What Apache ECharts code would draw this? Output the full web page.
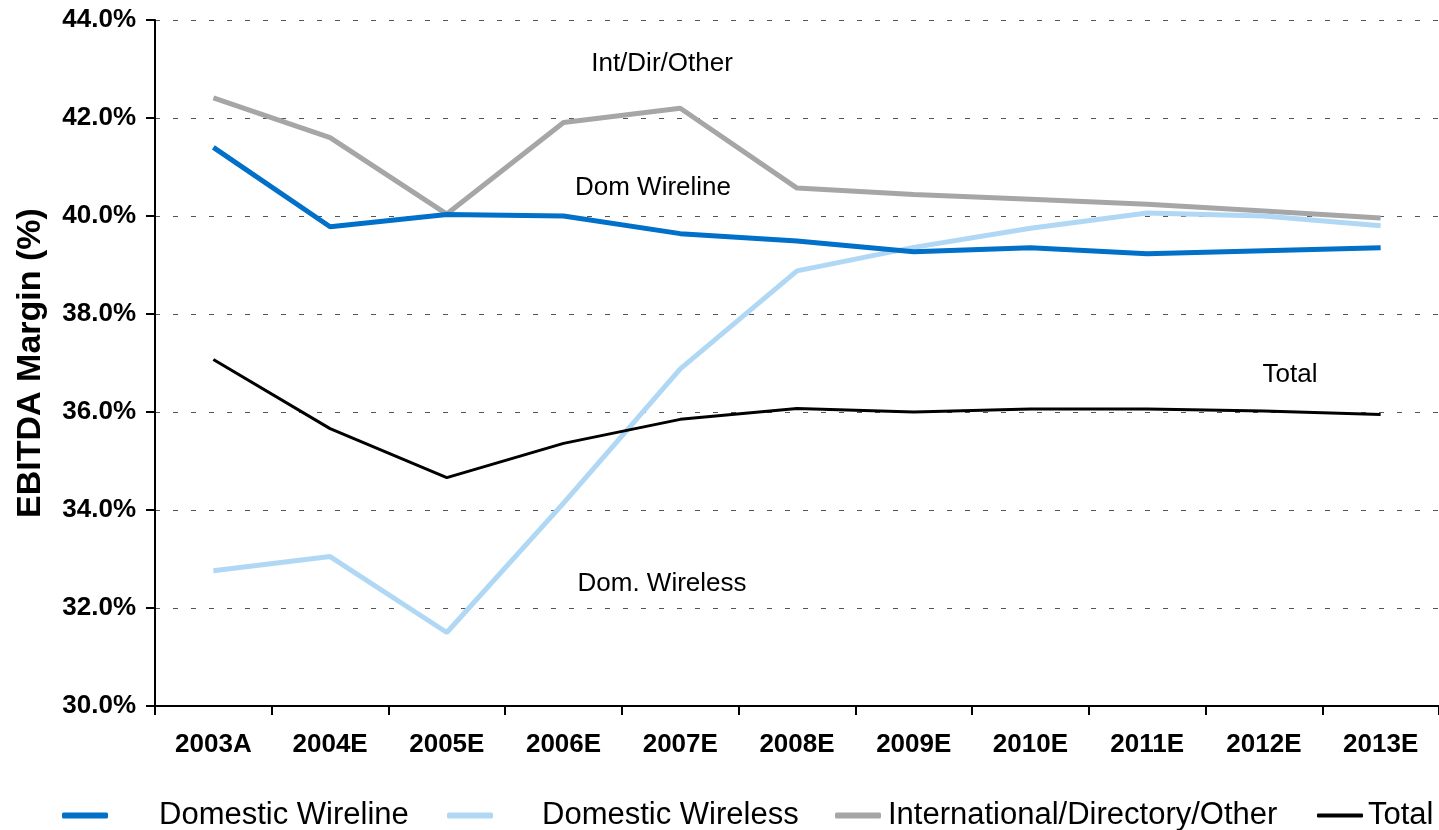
<!DOCTYPE html>
<html>
<head>
<meta charset="utf-8">
<script src="https://cdn.jsdelivr.net/npm/echarts@6/dist/echarts.min.js"></script>
<style>
  html, body { margin: 0; padding: 0; background: #fff; }
  #chart { width: 1439px; height: 830px; }
</style>
</head>
<body>
<div id="chart"></div>
<script>
// categories and series values (EBITDA margin, %)
const years = ['2003A', '2004E', '2005E', '2006E', '2007E', '2008E', '2009E', '2010E', '2011E', '2012E', '2013E']
const domWireline = [41.4, 39.78, 40.03, 40.0, 39.64, 39.49, 39.27, 39.35, 39.23, 39.29, 39.35]
const domWireless = [32.76, 33.05, 31.5, 34.14, 36.88, 38.88, 39.36, 39.75, 40.06, 40.0, 39.8]
const intDirOther = [42.41, 41.6, 40.04, 41.91, 42.2, 40.57, 40.44, 40.34, 40.24, 40.1, 39.96]
const total = [37.07, 35.66, 34.66, 35.36, 35.85, 36.07, 36.0, 36.06, 36.06, 36.02, 35.95]
const yTicks = [30, 32, 34, 36, 38, 40, 42, 44]

const font = '"Liberation Sans", Arial, sans-serif'
const chart = echarts.init(document.getElementById('chart'))

function legendFor (name, left, gap, height) {
  return {
    data: [name],
    left: left,
    top: 800,
    padding: 0,
    icon: 'roundRect',
    itemWidth: 46,
    itemHeight: height,
    textStyle: { fontFamily: font, fontSize: 31, color: '#000', padding: [0, 0, 0, gap] },
    selectedMode: false
  }
}

// free-floating series labels
function note (text, x, y) {
  return {
    type: 'text', x: x, y: y,
    style: { text: text, font: '26px ' + font, fill: '#000', align: 'center', verticalAlign: 'middle' }
  }
}

const option = {
  animation: false,
  backgroundColor: '#fff',
  grid: { left: 155, right: 0, top: 20, bottom: 124 },
  xAxis: {
    type: 'category',
    data: years,
    boundaryGap: true,
    axisLine: { lineStyle: { color: '#000', width: 2 } },
    axisTick: { show: true, length: 9, lineStyle: { color: '#000', width: 2 } },
    axisLabel: { fontFamily: font, fontSize: 26, fontWeight: 'bold', color: '#000', margin: 26 }
  },
  yAxis: {
    type: 'value',
    min: yTicks[0],
    max: yTicks[yTicks.length - 1],
    interval: 2,
    name: 'EBITDA Margin (%)',
    nameLocation: 'middle',
    nameGap: 107,
    nameTextStyle: { fontFamily: font, fontSize: 34, fontWeight: 'bold', color: '#000' },
    axisLine: { show: true, lineStyle: { color: '#000', width: 2 } },
    axisTick: { show: true, length: 9, lineStyle: { color: '#000', width: 2 } },
    axisLabel: {
      fontFamily: font, fontSize: 26, fontWeight: 'bold', color: '#000', margin: 19,
      formatter: v => v.toFixed(1) + '%'
    },
    splitLine: { show: true, lineStyle: { color: '#555', type: [5, 13], width: 1 } }
  },
  legend: [
    legendFor('Domestic Wireline', 62, 46, 6),
    legendFor('Domestic Wireless', 447, 44, 6),
    legendFor('International/Directory/Other', 835, 2, 6),
    legendFor('Total', 1317, 0, 4)
  ],
  graphic: [
    note('Int/Dir/Other', 662, 64),
    note('Dom Wireline', 653, 188),
    note('Total', 1290, 375),
    note('Dom. Wireless', 662, 584)
  ],
  series: [
    {
      name: 'International/Directory/Other', type: 'line', data: intDirOther,
      symbol: 'none', color: '#a6a6a6', lineStyle: { width: 5, color: '#a6a6a6' }
    },
    {
      name: 'Domestic Wireless', type: 'line', data: domWireless,
      symbol: 'none', color: '#b0d8f5', lineStyle: { width: 5, color: '#b0d8f5' }
    },
    {
      name: 'Domestic Wireline', type: 'line', data: domWireline,
      symbol: 'none', color: '#0070c8', lineStyle: { width: 5, color: '#0070c8' }
    },
    {
      name: 'Total', type: 'line', data: total,
      symbol: 'none', color: '#000', lineStyle: { width: 3, color: '#000' }
    }
  ]
}

chart.setOption(option)
</script>
</body>
</html>
